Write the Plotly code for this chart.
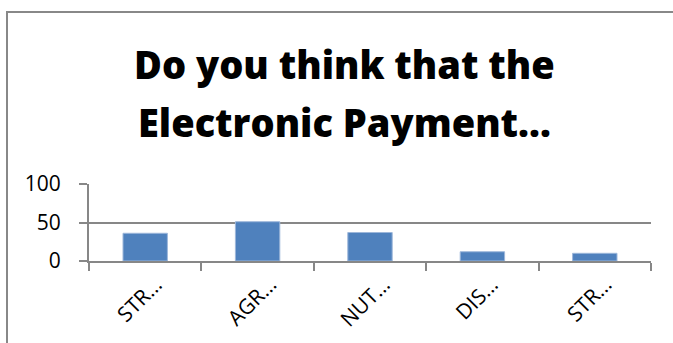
import plotly.graph_objects as go

categories = ["STR…", "AGR…", "NUT…", "DIS…", "STR… "]
values = [36, 51, 37, 12, 10]
y_ticks = [0, 50, 100]
title_lines = ["Do you think that the", "Electronic Payment…"]

W, H = 673, 343
L, R, T, B = 89, 22, 184, 82
pw, ph = W - L - R, H - T - B

def px_x(x):
    return (x - L) / pw

def px_y(y):
    return (H - B - y) / ph

fig = go.Figure(go.Bar(
    x=categories, y=values,
    marker=dict(color="#4F81BD", line=dict(color="#9DB7DA", width=1)),
    width=0.395,
))

gray = "#878787"
FONT = "Open Sans"
fig.update_layout(
    width=W, height=H,
    margin=dict(l=L, r=R, t=T, b=B, pad=0),
    paper_bgcolor="white", plot_bgcolor="white",
    showlegend=False,
    font=dict(family=FONT, size=21, color="black"),
)
fig.update_xaxes(
    type="category", tickson="boundaries", ticks="outside", ticklen=8,
    tickcolor=gray, tickwidth=2, showticklabels=False,
    showline=True, linecolor=gray, linewidth=2, showgrid=False,
)
fig.update_yaxes(
    range=[0, 100], tickvals=y_ticks, ticks="outside", ticklen=8,
    tickcolor=gray, tickwidth=2, showline=True, linecolor=gray, linewidth=2,
    showgrid=True, gridcolor=gray, gridwidth=2, zeroline=False,
    ticklabelstandoff=14,
    tickfont=dict(family=FONT, size=21),
)

for cat in categories:
    fig.add_annotation(
        text=cat.strip(), x=cat, xref="x", yref="paper", y=px_y(268),
        xanchor="center", yanchor="top", xshift=-6, textangle=-45,
        showarrow=False, font=dict(family=FONT, size=21, color="black"),
    )

for line, yc in zip(title_lines, [64, 122]):
    fig.add_annotation(
        text=line, xref="paper", yref="paper",
        x=px_x(344), y=px_y(yc), xanchor="center", yanchor="middle",
        showarrow=False, font=dict(family=FONT, size=38, color="black", weight=800),
    )

fig.add_shape(
    type="rect", xref="paper", yref="paper",
    x0=px_x(7), x1=px_x(690), y0=px_y(360), y1=px_y(12),
    line=dict(color="#888888", width=2), fillcolor="rgba(0,0,0,0)", layer="below",
)

fig.write_html("out.html")
